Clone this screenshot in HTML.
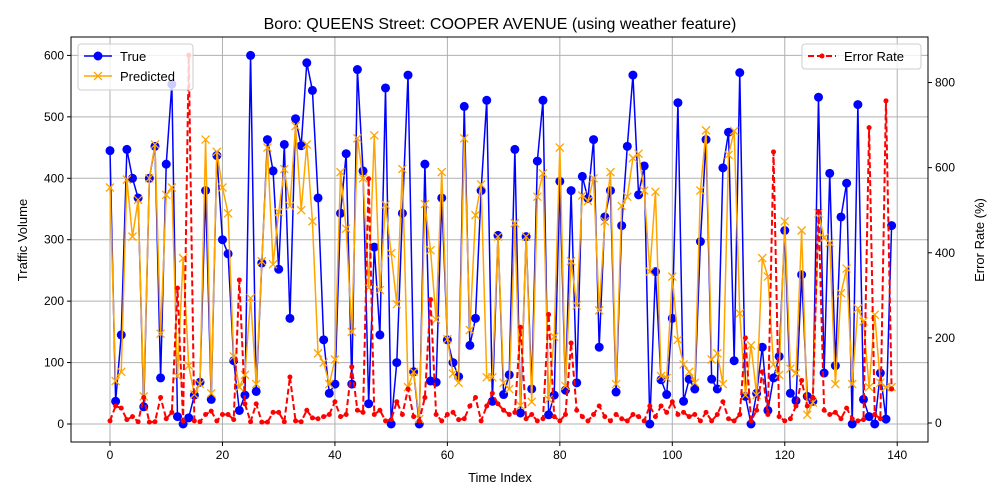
<!DOCTYPE html>
<html><head><meta charset="utf-8"><style>body{margin:0;background:#fff}svg{display:block;font-family:"Liberation Sans",sans-serif}</style></head>
<body>
<svg id="c" width="1000" height="500"></svg>
<script>
const trueVals=[445,37,145,447,400,368,28,400,452,75,423,553,12,0,10,47,68,380,40,437,300,277,103,22,47,600,53,262,463,412,252,455,172,497,453,588,543,368,137,50,65,343,440,65,577,412,33,288,145,547,0,100,343,568,85,0,423,70,68,368,137,100,77,517,128,172,380,527,37,307,48,80,447,18,305,57,428,527,15,47,395,55,380,67,403,367,463,125,337,380,52,323,452,568,373,420,0,248,72,48,172,523,37,73,57,297,463,73,57,417,475,103,572,45,0,50,125,22,75,110,315,50,38,243,45,37,532,83,408,95,337,392,0,520,40,12,0,83,8,323];
const predVals=[385,70,85,398,305,365,45,400,455,147,373,385,78,270,95,48,65,463,50,443,385,343,110,60,80,205,65,265,450,260,345,415,355,485,348,455,330,115,100,65,105,410,318,150,465,400,222,470,218,357,278,195,415,60,85,8,358,283,170,410,138,82,67,465,153,340,390,76,76,305,67,57,327,30,305,36,370,408,40,142,450,62,265,193,372,363,400,185,330,410,65,355,370,433,440,380,248,378,78,75,240,137,97,85,67,380,478,105,115,65,438,477,180,47,128,47,270,240,97,80,330,90,83,315,15,35,343,303,295,65,213,253,65,188,167,60,178,67,60,60];
const errVals=[5,40,35,8,15,3,60,2,3,60,10,25,317,5,864,5,3,20,28,5,20,20,8,336,45,3,45,2,2,25,25,3,108,5,3,30,12,10,15,20,50,15,20,132,30,25,574,20,30,5,8,50,20,80,15,5,60,290,20,5,20,25,8,10,40,60,5,40,70,45,30,20,25,225,10,20,5,10,255,15,5,20,188,30,15,5,20,40,15,5,20,10,5,20,15,5,40,15,40,25,50,20,25,15,20,5,25,5,20,50,10,5,20,200,5,30,120,20,637,15,5,10,40,100,40,60,497,30,20,25,10,35,10,5,8,694,20,10,757,80];
const xTicks=[0,20,40,60,80,100,120,140];
const yTicks=[0,100,200,300,400,500,600];
const y2Ticks=[0,200,400,600,800];
const L=71,R=928,T=37,B=442;
const X=i=>110+i*5.623, Y=v=>424-v*0.6143, Y2=v=>423-v*0.4256;
const svg=document.getElementById('c');const NS='http://www.w3.org/2000/svg';
function mk(t,a,p){const e=document.createElementNS(NS,t);for(const k in a)e.setAttribute(k,a[k]);(p||svg).appendChild(e);return e;}
function txt(s,a){const e=mk('text',a);e.textContent=s;return e;}
// grid
xTicks.forEach(t=>{const g=mk('line',{x1:X(t),x2:X(t),y1:T,y2:B,stroke:'#b0b0b0','stroke-width':1});
 mk('line',{x1:X(t),x2:X(t),y1:B,y2:B+4,stroke:'#000'});
 const l=txt(t,{x:X(t),y:B+17,'font-size':12,'text-anchor':'middle'});});
yTicks.forEach(t=>{const g=mk('line',{x1:L,x2:R,y1:Y(t),y2:Y(t),stroke:'#b0b0b0','stroke-width':1});
 mk('line',{x1:L-4,x2:L,y1:Y(t),y2:Y(t),stroke:'#000'});
 const l=txt(t,{x:L-7,y:Y(t)+4,'font-size':12,'text-anchor':'end'});});
y2Ticks.forEach(t=>{mk('line',{x1:R,x2:R+4,y1:Y2(t),y2:Y2(t),stroke:'#000'});
 const l=txt(t,{x:R+7,y:Y2(t)+4,'font-size':12});});
// series
function line(vals,fy,col,extra){return mk('polyline',Object.assign({points:vals.map((v,i)=>X(i)+','+fy(v)).join(' '),fill:'none',stroke:col,'stroke-width':1.5,'stroke-linejoin':'round'},extra||{}));}
const gT=mk('g',{});
const pl=line(trueVals,Y,'#0000ff');gT.appendChild(pl);
trueVals.forEach((v,i)=>{const c=mk('circle',{cx:X(i),cy:Y(v),r:4.5,fill:'#0000ff'},gT);});
const gP=mk('g',{});
gP.appendChild(line(predVals,Y,'#ffa500'));
predVals.forEach((v,i)=>{const x=X(i),y=Y(v),s=4;const p=mk('path',{d:`M${x-s},${y-s}L${x+s},${y+s}M${x-s},${y+s}L${x+s},${y-s}`,stroke:'#ffa500','stroke-width':1.3},gP);});
const gE=mk('g',{});
gE.appendChild(line(errVals,Y2,'#ff0000',{'stroke-dasharray':'6,3','stroke-width':2}));
errVals.forEach((v,i)=>{const c=mk('circle',{cx:X(i),cy:Y2(v),r:2.5,fill:'#ff0000'},gE);});
</script>
<svg width="1000" height="500" style="position:absolute;left:0;top:0">
<rect x="71" y="37" width="857" height="405" fill="none" stroke="#000" stroke-width="1"/>
<text x="500" y="29" font-size="16" text-anchor="middle">Boro: QUEENS Street: COOPER AVENUE (using weather feature)</text>
<text x="500" y="482" font-size="13" text-anchor="middle">Time Index</text>
<text x="27" y="240" font-size="13" text-anchor="middle" transform="rotate(-90 27 240)">Traffic Volume</text>
<text x="984" y="240" font-size="13" text-anchor="middle" transform="rotate(-90 984 240)">Error Rate (%)</text>
<g>
<rect x="78" y="44" width="115" height="46" rx="3" fill="#fff" fill-opacity="0.8" stroke="#ccc"/>
<line x1="84" y1="56" x2="112" y2="56" stroke="#0000ff" stroke-width="1.5"/><circle cx="98" cy="56" r="4.5" fill="#0000ff"/>
<text x="120" y="61" font-size="13">True</text>
<line x1="84" y1="76" x2="112" y2="76" stroke="#ffa500" stroke-width="1.5"/><path d="M94,72L102,80M94,80L102,72" stroke="#ffa500" stroke-width="1.3"/>
<text x="120" y="81" font-size="13">Predicted</text>
</g>
<g>
<rect x="802" y="44" width="119" height="25" rx="3" fill="#fff" fill-opacity="0.8" stroke="#ccc"/>
<line x1="808" y1="56" x2="836" y2="56" stroke="#ff0000" stroke-width="2" stroke-dasharray="6,3"/><circle cx="822" cy="56" r="2.5" fill="#ff0000"/>
<text x="844" y="61" font-size="13">Error Rate</text>
</g>
</svg>
</body></html>
